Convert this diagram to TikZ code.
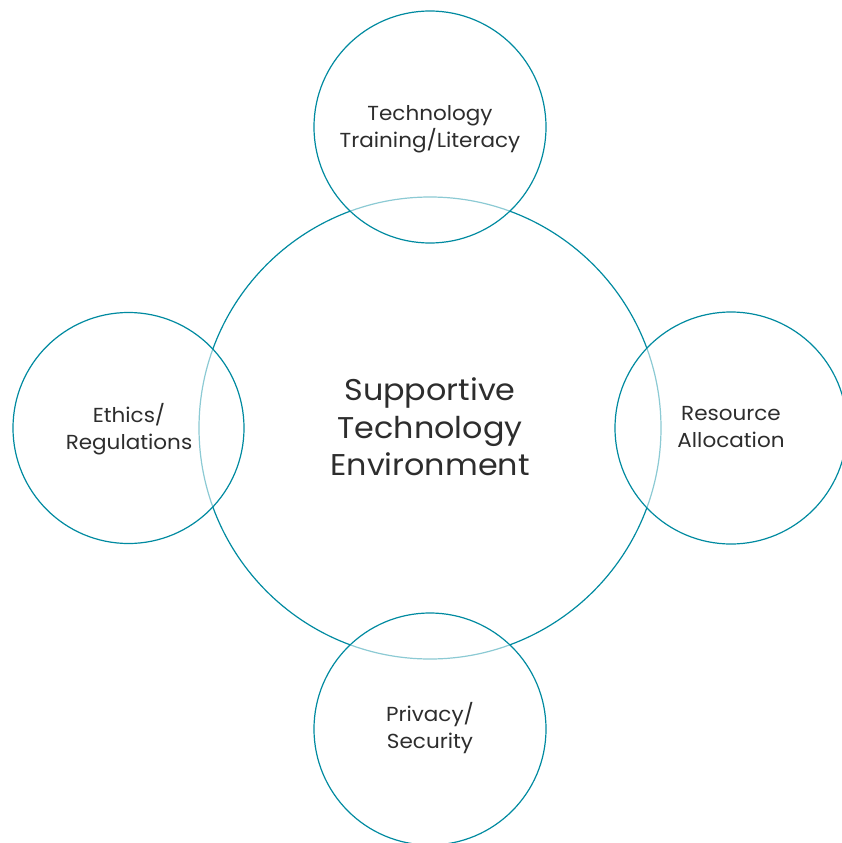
\documentclass[tikz,border=0pt]{standalone}
\usepackage{fontspec}
\setmainfont{Poppins}[FakeStretch=1.06]
\definecolor{teal1}{RGB}{0,138,160}
\definecolor{txt}{RGB}{45,45,45}
\tikzset{
  ring/.style={draw=teal1, line width=1.2pt},
  veil/.style={fill=white, fill opacity=0.55},
  small/.style={text=txt, align=center, font=\fontsize{20.3}{27}\selectfont},
  big/.style={text=txt, align=center, font=\fontsize{30}{37.5}\selectfont}
}
\begin{document}
\begin{tikzpicture}[x=1pt,y=-1pt]
\useasboundingbox (0,0) rectangle (842,843);
\draw[ring] (430,428) circle (231);
\fill[veil] (430,127) circle (116);
\fill[veil] (128.5,428) circle (115.5);
\fill[veil] (731,428) circle (116);
\fill[veil] (430,729) circle (116);
\draw[ring] (430,127) circle (116);
\draw[ring] (128.5,428) circle (115.5);
\draw[ring] (731,428) circle (116);
\draw[ring] (430,729) circle (116);
\node[big] (center) at (430,427) {Supportive\\Technology\\Environment};
\node[small] (top) at (430,129) {Technology\\Training/Literacy};
\node[small] (left) at (129,429) {Ethics/\\Regulations};
\node[small] (right) at (731,427) {Resource\\Allocation};
\node[small] (bottom) at (430,728) {Privacy/\\Security};
\end{tikzpicture}
\end{document}
